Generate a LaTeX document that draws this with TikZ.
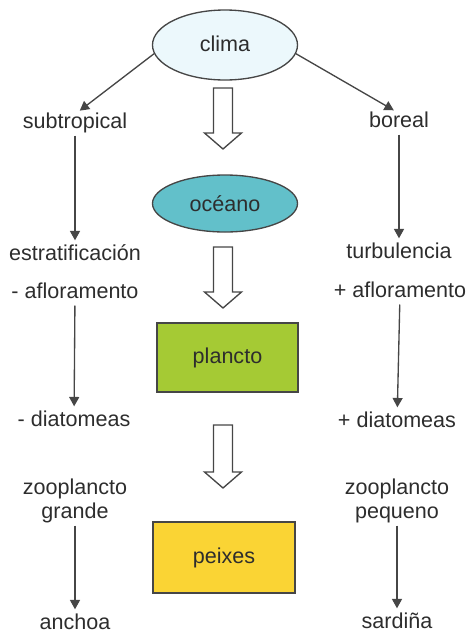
\documentclass[tikz,border=0pt]{standalone}
\usepackage{fontspec}
\setmainfont{Liberation Sans}
\usetikzlibrary{shapes.geometric,arrows.meta}

\definecolor{txtgray}{RGB}{45,45,45}
\definecolor{linegray}{RGB}{70,70,70}
\definecolor{climafill}{RGB}{236,248,252}
\definecolor{oceanfill}{RGB}{98,192,202}
\definecolor{planctofill}{RGB}{165,202,52}
\definecolor{peixesfill}{RGB}{250,212,52}

% hollow block arrow: x, top, tip
\newcommand{\hollowarrow}[3]{%
  \draw[linegray, line width=0.04cm, fill=white]
    (#1-9.5,#2) -- (#1+9.5,#2) -- (#1+9.5,#3-16) -- (#1+18.5,#3-16)
    -- (#1,#3) -- (#1-18.5,#3-16) -- (#1-9.5,#3-16) -- cycle;}

\begin{document}
\begin{tikzpicture}[x=0.03cm, y=-0.03cm,
  font=\fontsize{18.4}{22}\selectfont,
  lbl/.style={text=txtgray, inner sep=4pt, text height=0.75em, text depth=0.22em, anchor=base},
  bubble/.style={ellipse, draw=linegray, line width=0.04cm, text=txtgray, inner sep=0pt},
  panel/.style={rectangle, draw=linegray, line width=0.04cm, text=txtgray, inner sep=0pt},
  arr/.style={-{Triangle[width=3mm, length=2.8mm]}, linegray, line width=0.04cm, shorten >=1.8mm}]

  \useasboundingbox (0,0) rectangle (465,633);

  % central chain
  \node[bubble, fill=climafill, minimum width=4.35cm, minimum height=2.1cm, text height=1.05em, text depth=0pt] (clima) at (225,45) {clima};
  \node[bubble, fill=oceanfill, minimum width=4.35cm, minimum height=1.71cm] (oceano) at (225,203.5) {océano};
  \node[panel, fill=planctofill, minimum width=4.23cm, minimum height=2.07cm] (plancto) at (227.5,357.5) {plancto};
  \node[panel, fill=peixesfill, minimum width=4.26cm, minimum height=2.13cm, text height=0.95em, text depth=0pt] (peixes) at (224,557.5) {peixes};

  \hollowarrow{223}{88}{149}
  \hollowarrow{223}{247}{308}
  \hollowarrow{223}{425}{488}

  % left branch
  \node[lbl] (subtrop) at (75,128) {subtropical};
  \node[lbl] (estrat) at (75,260) {estratificación};
  \node[lbl] (menosaflor) at (75,298) {- afloramento};
  \node[lbl] (menosdiat) at (74,426) {- diatomeas};
  \node[lbl] (zooL) at (75,494) {zooplancto};
  \node[lbl] (grande) at (75,518) {grande};
  \node[lbl] (anchoa) at (75,629) {anchoa};

  % right branch
  \node[lbl] (boreal) at (399,127) {boreal};
  \node[lbl] (turb) at (399,258) {turbulencia};
  \node[lbl] (masaflor) at (400,297) {+ afloramento};
  \node[lbl] (masdiat) at (397,427) {+ diatomeas};
  \node[lbl] (zooR) at (397,494) {zooplancto};
  \node[lbl] (pequeno) at (397,518) {pequeno};
  \node[lbl] (sardina) at (397,628) {sardiña};

  % connectors
  \draw[arr] (clima.187) -- (subtrop.north);
  \draw[arr] (clima.-7) -- (boreal.north);
  \draw[arr] (subtrop) -- (estrat);
  \draw[arr] (menosaflor) -- (menosdiat);
  \draw[arr] (grande) -- (anchoa);
  \draw[arr] (boreal) -- (turb);
  \draw[arr] (masaflor) -- (masdiat);
  \draw[arr] (pequeno) -- (sardina);

\end{tikzpicture}
\end{document}
